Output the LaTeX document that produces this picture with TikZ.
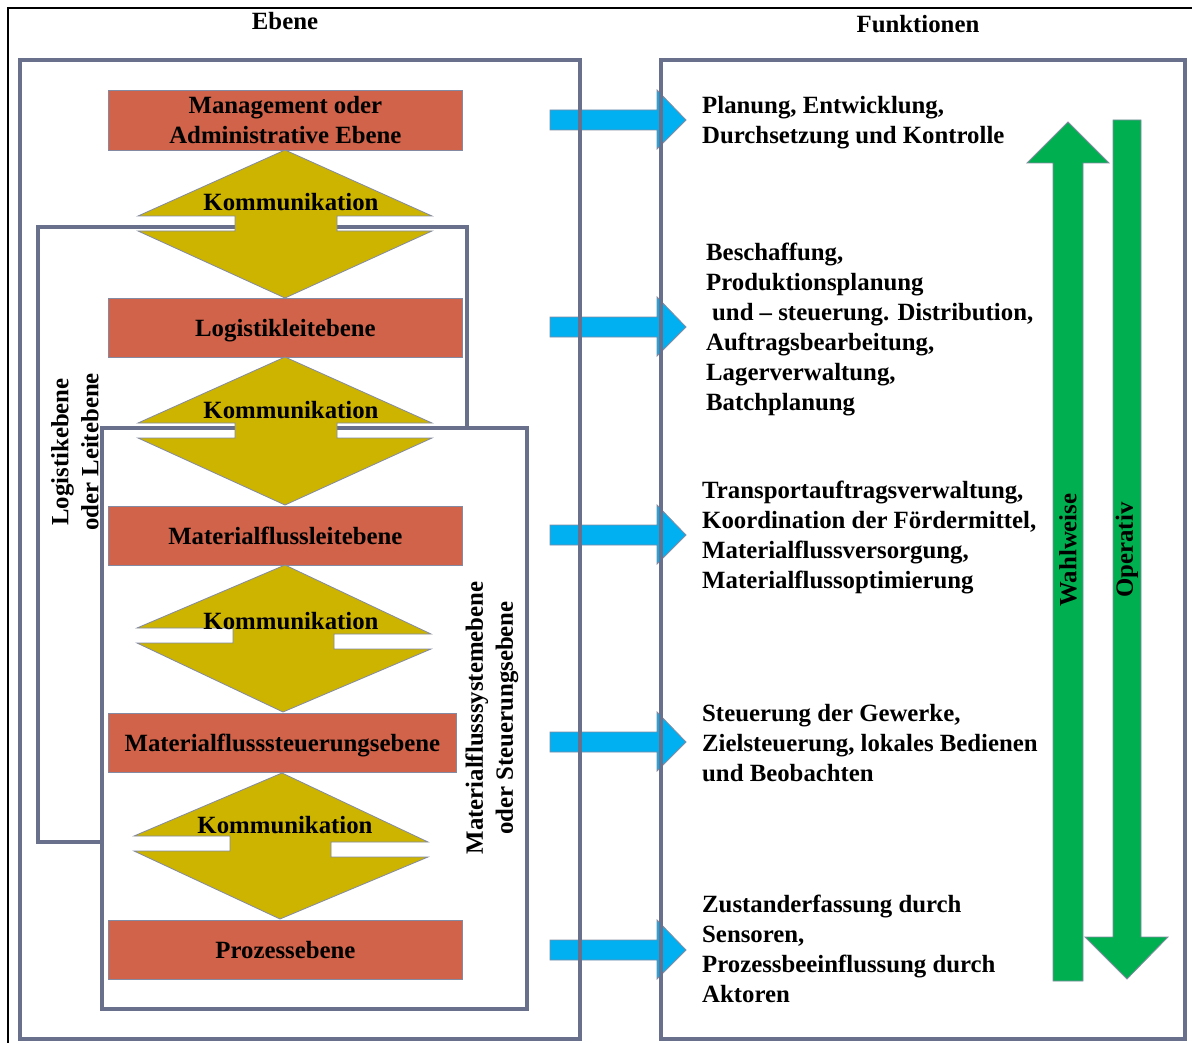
\documentclass[tikz,border=0pt]{standalone}
\usepackage{fontspec}
\setmainfont{Liberation Serif}
\definecolor{layer}{RGB}{208,99,74}
\definecolor{komm}{RGB}{204,180,0}
\definecolor{flow}{RGB}{0,176,240}
\definecolor{dir}{RGB}{0,176,80}
\definecolor{frame}{RGB}{104,112,140}
\definecolor{edge}{RGB}{132,138,162}

\begin{document}
\begin{tikzpicture}[x=1pt,y=-1pt,
  lbl/.style={font=\bfseries\fontsize{24.8}{30}\selectfont, inner sep=0pt},
  func/.style={lbl, align=left, anchor=north west},
  layerbox/.style={draw=edge, line width=0.8pt, fill=layer, lbl, align=center,
    anchor=north west, minimum height=59pt},
  kommshape/.style={draw=edge, line width=0.8pt, fill=komm},
  flowarrow/.style={draw=edge, line width=0.8pt, fill=flow},
  dirarrow/.style={draw=edge, line width=0.8pt, fill=dir},
  group/.style={draw=frame, line width=4pt},
]
\useasboundingbox (0,0) rectangle (1192,1043);
\clip (0,0) rectangle (1192,1043);

% outer frame
\draw[black, line width=1.3pt] (8,8) rectangle (1240,1090);

% column headings
\node[lbl, anchor=base] (hEbene) at (285,30) {Ebene};
\node[lbl, anchor=base] (hFunk) at (918,33) {Funktionen};

% arrows from the levels to their functions
\foreach \y in {120,327,535,742,950}{
  \draw[flowarrow] (550,\y-10) -- (657,\y-10) -- (657,\y-30) -- (686,\y)
    -- (657,\y+29) -- (657,\y+10) -- (550,\y+10) -- cycle;
}

% grouping frames
\draw[group] (20,60) rectangle (580,1039);
\draw[group] (661,60) rectangle (1185,1039);
\draw[group] (38,227) rectangle (467,842);
\draw[group, fill=white] (102,428) rectangle (527,1009);

% group labels
\node[lbl, rotate=90, align=center] (gLog) at (75,452) {Logistikebene\\oder Leitebene};
\node[lbl, rotate=90, align=center] (gMat) at (492,718) {Materialflusssystemebene\\oder Steuerungsebene};

% levels
\node[layerbox, minimum width=354pt, minimum height=60pt] (lMgmt) at (108,90)
  {Management oder\\Administrative Ebene};
\node[layerbox, minimum width=354pt, text height=17pt, text depth=0pt] (lLog) at (108,298) {Logistikleitebene};
\node[layerbox, minimum width=354pt, text height=17pt, text depth=0pt] (lMat) at (108,506) {Materialflussleitebene};
\node[layerbox, minimum width=348pt, text height=17pt, text depth=0pt] (lSteu) at (108,713) {Materialflusssteuerungsebene};
\node[layerbox, minimum width=354pt, text height=17pt, text depth=0pt] (lProz) at (108,920) {Prozessebene};

% communication double arrows
\draw[kommshape] (285,150) -- (432,216) -- (337,216) -- (337,231) -- (432,231) -- (285,298)
  -- (138,231) -- (235,231) -- (235,216) -- (138,216) -- cycle;
\draw[kommshape] (285,357) -- (432,423) -- (337,423) -- (337,438) -- (432,438) -- (285,505)
  -- (138,438) -- (235,438) -- (235,423) -- (138,423) -- cycle;
\draw[kommshape] (285,565) -- (431,634) -- (334,634) -- (334,649) -- (431,649) -- (283,712)
  -- (137,643) -- (233,643) -- (233,628) -- (137,628) -- cycle;
\draw[kommshape] (282,773) -- (428,842) -- (331,842) -- (331,857) -- (428,857) -- (280,919)
  -- (134,851) -- (230,851) -- (230,836) -- (134,836) -- cycle;
\node[lbl, anchor=base] (k1) at (291,211) {Kommunikation};
\node[lbl, anchor=base] (k2) at (291,418) {Kommunikation};
\node[lbl, anchor=base] (k3) at (291,629) {Kommunikation};
\node[lbl, anchor=base] (k4) at (285,833) {Kommunikation};

% functions
\node[func] (f1) at (702,92) {\strut Planung, Entwicklung,\\\strut Durchsetzung und Kontrolle};
\node[func] (f2) at (706,239) {\strut Beschaffung,\\\strut Produktionsplanung\\\strut\hspace*{6pt}und – steuerung. Distribution,\\\strut Auftragsbearbeitung,\\\strut Lagerverwaltung,\\\strut Batchplanung};
\node[func] (f3) at (702,477) {\strut Transportauftragsverwaltung,\\\strut Koordination der Fördermittel,\\\strut Materialflussversorgung,\\\strut Materialflussoptimierung};
\node[func] (f4) at (702,700) {\strut Steuerung der Gewerke,\\\strut Zielsteuerung, lokales Bedienen\\\strut und Beobachten};
\node[func] (f5) at (702,891) {\strut Zustanderfassung durch\\\strut Sensoren,\\\strut Prozessbeeinflussung durch\\\strut Aktoren};

% direction arrows
\draw[dirarrow] (1068,122) -- (1109,163) -- (1083,163) -- (1083,981) -- (1053,981)
  -- (1053,163) -- (1027,163) -- cycle;
\draw[dirarrow] (1113,120) -- (1141,120) -- (1141,937) -- (1168,937) -- (1127,979)
  -- (1085,937) -- (1113,937) -- cycle;
\node[lbl, rotate=90] (dWahl) at (1068,550) {Wahlweise};
\node[lbl, rotate=90] (dOper) at (1127,550) {Operativ};
\end{tikzpicture}
\end{document}
